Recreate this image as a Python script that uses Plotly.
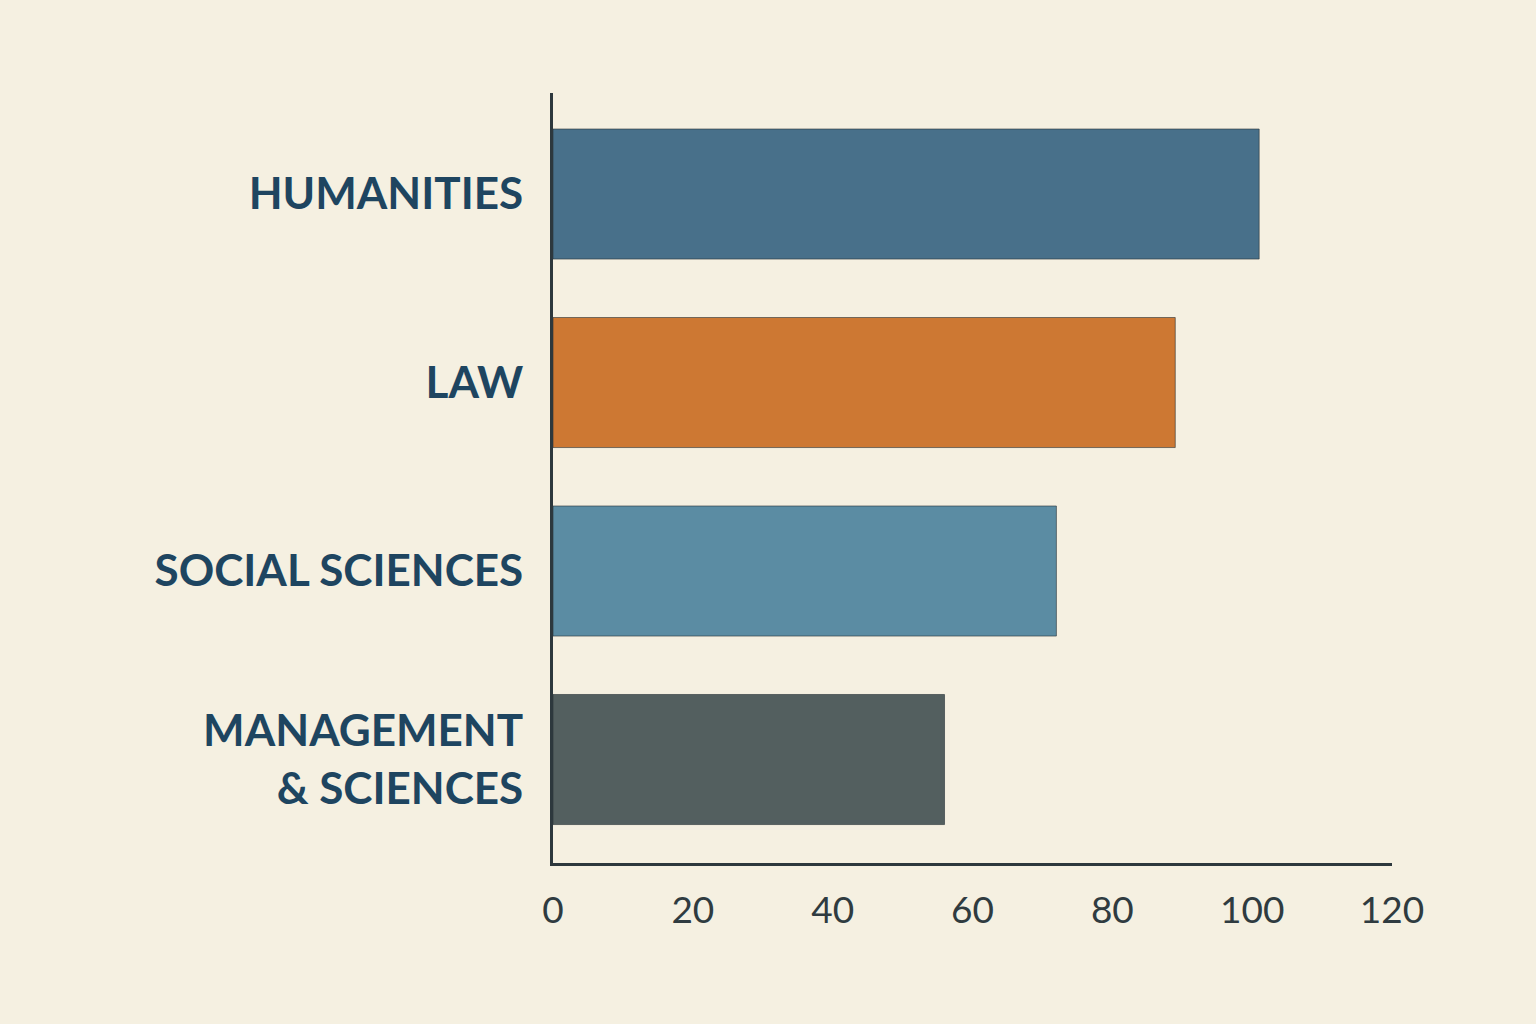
import plotly.graph_objects as go

categories = ["HUMANITIES", "LAW", "SOCIAL SCIENCES", "MANAGEMENT<br>& SCIENCES"]
values = [101, 89, 72, 56]
bar_colors = ["#48708a", "#cd7833", "#5b8ca3", "#535f5f"]
x_ticks = [0, 20, 40, 60, 80, 100, 120]

fig = go.Figure(go.Bar(
    x=values,
    y=categories,
    orientation="h",
    marker=dict(color=bar_colors, line=dict(color="rgba(40,50,55,0.6)", width=1)),
    hoverinfo="skip",
))

fig.update_layout(
    width=1536, height=1024,
    paper_bgcolor="#f5f0e1",
    plot_bgcolor="#f5f0e1",
    margin=dict(l=553, r=144, t=93, b=161, autoexpand=False),
    bargap=0.31,
    showlegend=False,
)

fig.update_xaxes(
    range=[0, 120],
    tickvals=x_ticks,
    ticktext=[str(v) for v in x_ticks],
    showgrid=False, zeroline=False,
    showline=True, linecolor="#2d383d", linewidth=3,
    ticks="", ticklabelstandoff=13,
    tickfont=dict(family="Lato", size=37, color="#2f3b40"),
)

fig.update_yaxes(
    type="category",
    categoryorder="array", categoryarray=categories,
    range=[3.549, -0.536],
    showgrid=False, zeroline=False,
    showline=True, linecolor="#2d383d", linewidth=3,
    ticks="", ticklabelstandoff=18,
    tickfont=dict(family="Lato", size=44, color="#1e4560", weight="bold"),
)

fig.write_html(
    "out.html",
    config={"displayModeBar": False},
    post_script="document.body.style.margin='0';document.body.style.background='#f5f0e1';",
)
